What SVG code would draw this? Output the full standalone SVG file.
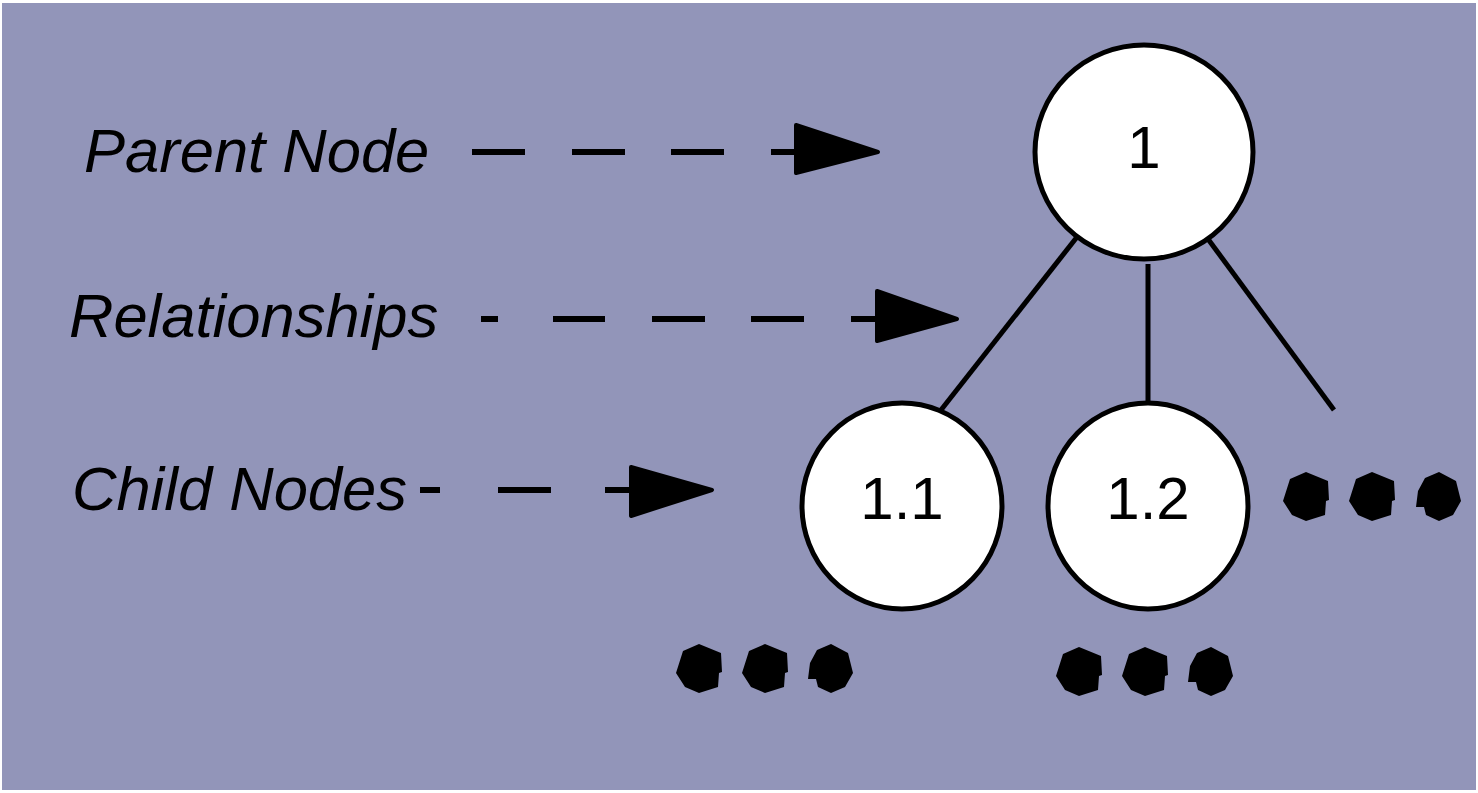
<svg xmlns="http://www.w3.org/2000/svg" width="1478" height="793" viewBox="0 0 1478 793">
<style>
.lbl{font-family:"Liberation Sans",Arial,sans-serif;font-style:italic;font-size:61.5px;fill:#000}
.num{font-family:"Liberation Sans",Arial,sans-serif;font-size:60px;fill:#000;text-anchor:middle}
.node{fill:#fff;stroke:#000;stroke-width:5}
.edge{stroke:#000;stroke-width:5;fill:none}
.dash{stroke:#000;stroke-width:6;fill:none}
.head{fill:#000;stroke:#000;stroke-width:4;stroke-linejoin:round}
</style>
<defs>
<path id="dotA" d="M-16,-18 L0,-25 L22,-16 L23,3 L20,4 L19,18 L0,24 L-14,18 L-23,4 Z" fill="#000"/>
<path id="dotB" d="M-23,10 L-21,-6 L-14,-19 L0,-25 L17,-16 L22,4 L14,18 L0,24 L-13,18 L-15,10 Z" fill="#000"/>
</defs>
<rect x="0" y="0" width="1478" height="793" fill="#fff"/>
<rect x="2" y="3" width="1474" height="787" fill="#9295b9"/>

<g id="labels">
<text class="lbl" x="84" y="172">Parent Node</text>
<text class="lbl" x="69" y="337">Relationships</text>
<text class="lbl" x="72" y="510">Child Nodes</text>
</g>

<g id="connectors">
<path class="dash" d="M472,152 H525 M572,152 H625 M671,152 H724 M771,152 H800"/>
<path class="head" d="M796,125 L878,152 L796,173 Z"/>
<path class="dash" d="M481,319 H498 M553,319 H605 M652,319 H705 M751,319 H804 M851,319 H880"/>
<path class="head" d="M877,291 L957,319 L877,341 Z"/>
<path class="dash" d="M420,490 H440 M498,490 H551 M605,490 H633"/>
<path class="head" d="M631,467 L712,490 L631,516 Z"/>
<line class="edge" x1="1077" y1="237" x2="941" y2="410"/>
<line class="edge" x1="1148" y1="264" x2="1148" y2="402"/>
<line class="edge" x1="1208" y1="239" x2="1334" y2="410"/>
</g>

<g id="node-1">
<ellipse class="node" cx="1144" cy="152" rx="109" ry="107"/>
<text class="num" x="1144" y="168">1</text>
</g>
<g id="node-1-1">
<ellipse class="node" cx="902" cy="506" rx="100" ry="103"/>
<text class="num" x="902" y="519">1.1</text>
</g>
<g id="node-1-2">
<ellipse class="node" cx="1148" cy="506" rx="100" ry="103"/>
<text class="num" x="1148" y="519">1.2</text>
</g>

<g id="more-1">
<use href="#dotA" x="1306" y="497"/>
<use href="#dotA" x="1372" y="497"/>
<use href="#dotB" x="1439" y="497"/>
</g>
<g id="more-1-1">
<use href="#dotA" x="699" y="669"/>
<use href="#dotA" x="765" y="669"/>
<use href="#dotB" x="831" y="669"/>
</g>
<g id="more-1-2">
<use href="#dotA" x="1079" y="672"/>
<use href="#dotA" x="1145" y="672"/>
<use href="#dotB" x="1211" y="672"/>
</g>
</svg>
